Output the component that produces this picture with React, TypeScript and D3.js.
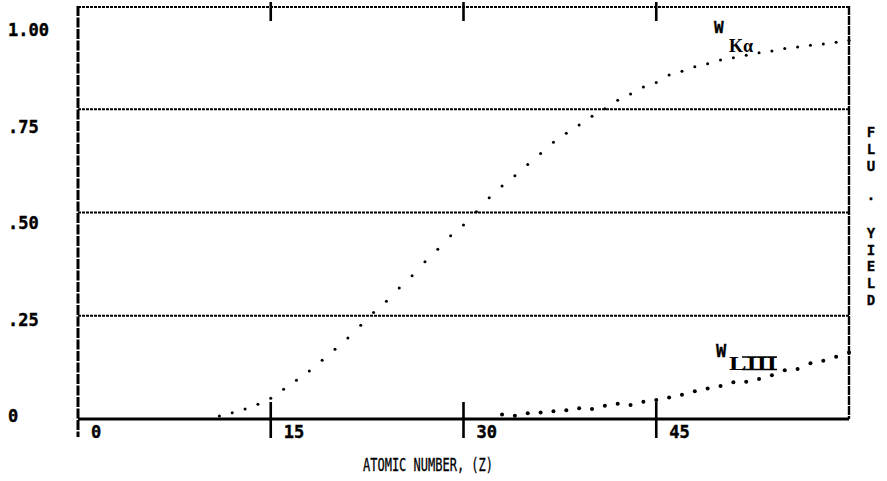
import React from "react";
import * as d3 from "d3";

const kAlphaZ = [11,12,13,14,15,16,17,18,19,20,21,22,23,24,25,26,27,28,29,30,31,32,33,34,35,36,37,38,39,40,41,42,43,44,45,46,47,48,49,50,51,52,53,54,55,56,57,58,59,60];
const kAlphaYield = [0.007,0.015,0.024,0.036,0.050,0.072,0.094,0.116,0.142,0.169,0.196,0.227,0.258,0.285,0.317,0.347,0.381,0.411,0.444,0.470,0.502,0.536,0.564,0.589,0.616,0.643,0.670,0.692,0.712,0.733,0.751,0.772,0.787,0.804,0.815,0.833,0.842,0.853,0.860,0.869,0.875,0.881,0.887,0.891,0.897,0.901,0.905,0.908,0.912,0.917];

const lIIIZ = [33,34,35,36,37,38,39,40,41,42,43,44,45,46,47,48,49,50,51,52,53,54,55,56,57,58,59,60];
const lIIIYield = [0.011,0.008,0.014,0.016,0.019,0.021,0.026,0.024,0.032,0.037,0.034,0.042,0.046,0.052,0.059,0.067,0.074,0.080,0.089,0.090,0.097,0.106,0.118,0.121,0.135,0.141,0.151,0.161];

const yTicks = [0, 0.25, 0.5, 0.75, 1];
const yTickLabels = ["0", ".25", ".50", ".75", "1.00"];
const xTicks = [0, 15, 30, 45];
const xTickLabels = ["0", "15", "30", "45"];
const xTitle = "ATOMIC NUMBER, (Z)";
const yTitleChars = ["F", "L", "U", " ", "·", " ", "Y", "I", "E", "L", "D"];

const W = 887, H = 481;
const left = 78, right = 849, top = 6, bottom = 419;

export default function App() {
  const x = d3.scaleLinear().domain([0, 60]).range([left, right]);
  const y = d3.scaleLinear().domain([0, 1]).range([bottom, top]);
  const yLab = d3.scaleLinear().domain([0, 1]).range([416, 30]);

  const mono = "'DejaVu Sans Mono', monospace";
  const serif = "'Liberation Serif', 'DejaVu Serif', serif";

  return (
    <svg width={W} height={H} style={{ position: "absolute", left: 0, top: 0, background: "#fff" }}>
      <rect x={0} y={0} width={W} height={H} fill="#fff" />
      {/* gridlines */}
      {yTicks.filter(v => v > 0 && v < 1).map(v => (
        <line key={v} x1={left} x2={right} y1={y(v)} y2={y(v)} stroke="#000" strokeWidth={2.2} strokeDasharray="3 1" />
      ))}
      {/* top border */}
      <line x1={left} x2={right} y1={y(1) + 1} y2={y(1) + 1} stroke="#000" strokeWidth={2.2} strokeDasharray="3 1" />
      {/* right border */}
      <line x1={right} x2={right} y1={y(1)} y2={bottom} stroke="#000" strokeWidth={2.4} strokeDasharray="9 1" />
      {/* bottom axis */}
      <line x1={left} x2={right} y1={bottom} y2={bottom} stroke="#000" strokeWidth={3} />
      {/* left axis */}
      <line x1={left} x2={left} y1={y(1)} y2={437} stroke="#000" strokeWidth={3} strokeDasharray="10 1.5" />
      {/* ticks */}
      {xTicks.filter(v => v > 0).map(v => (
        <g key={v}>
          <line x1={x(v)} x2={x(v)} y1={2} y2={21} stroke="#000" strokeWidth={2.6} />
          <line x1={x(v)} x2={x(v)} y1={402} y2={438} stroke="#000" strokeWidth={2.6} />
        </g>
      ))}
      {/* x tick labels */}
      {xTicks.map((v, i) => (
        <text key={v} x={x(v) + 13} y={438} fontFamily={mono} fontWeight="bold" fontSize={17}
          stroke="#000" strokeWidth={0.4}
          style={{ fontVariantNumeric: "slashed-zero" }} fill="#000">{xTickLabels[i]}</text>
      ))}
      {/* y tick labels */}
      {yTicks.map((v, i) => (
        <text key={v} x={8} y={yLab(v)} dy="0.36em" fontFamily={mono} fontWeight="bold" fontSize={17}
          stroke="#000" strokeWidth={0.4}
          style={{ fontVariantNumeric: "slashed-zero" }} fill="#000">{yTickLabels[i]}</text>
      ))}
      {/* x title */}
      <text x={363} y={471} fontFamily={mono} fontSize={17} textLength={130} lengthAdjust="spacingAndGlyphs" fill="#000"
        stroke="#000" strokeWidth={0.3}>{xTitle}</text>
      {/* right vertical title */}
      {yTitleChars.map((c, i) => (
        <text key={i} x={871} y={132 + i * 16.8} dy="0.36em" textAnchor="middle" fontFamily={mono} fontWeight="bold" fontSize={14}
          stroke="#000" strokeWidth={0.3} fill="#000">{c}</text>
      ))}
      {/* K alpha series */}
      {kAlphaZ.map((z, i) => (
        <circle key={"k" + z} cx={x(z)} cy={y(kAlphaYield[i])} r={1.5} fill="#000" />
      ))}
      {/* L III series */}
      {lIIIZ.map((z, i) => (
        <circle key={"l" + z} cx={x(z)} cy={y(lIIIYield[i])} r={2} fill="#000" />
      ))}
      {/* series labels */}
      <text x={714} y={33} fontFamily={mono} fontWeight="bold" fontSize={16} stroke="#000" strokeWidth={0.3} fill="#000">W</text>
      <text x={729} y={52} fontFamily={serif} fontWeight="bold" fontSize={18} fill="#000">Kα</text>
      <text x={716} y={357} fontFamily={mono} fontWeight="bold" fontSize={17} stroke="#000" strokeWidth={0.3} fill="#000">W</text>
      <text x={729} y={370} fontFamily={serif} fontWeight="bold" fontSize={19} textLength={48} lengthAdjust="spacingAndGlyphs" fill="#000">LIII</text>
      <line x1={742} x2={777} y1={357} y2={357} stroke="#000" strokeWidth={1.4} />
      <line x1={742} x2={777} y1={369.5} y2={369.5} stroke="#000" strokeWidth={1.4} />
    </svg>
  );
}
